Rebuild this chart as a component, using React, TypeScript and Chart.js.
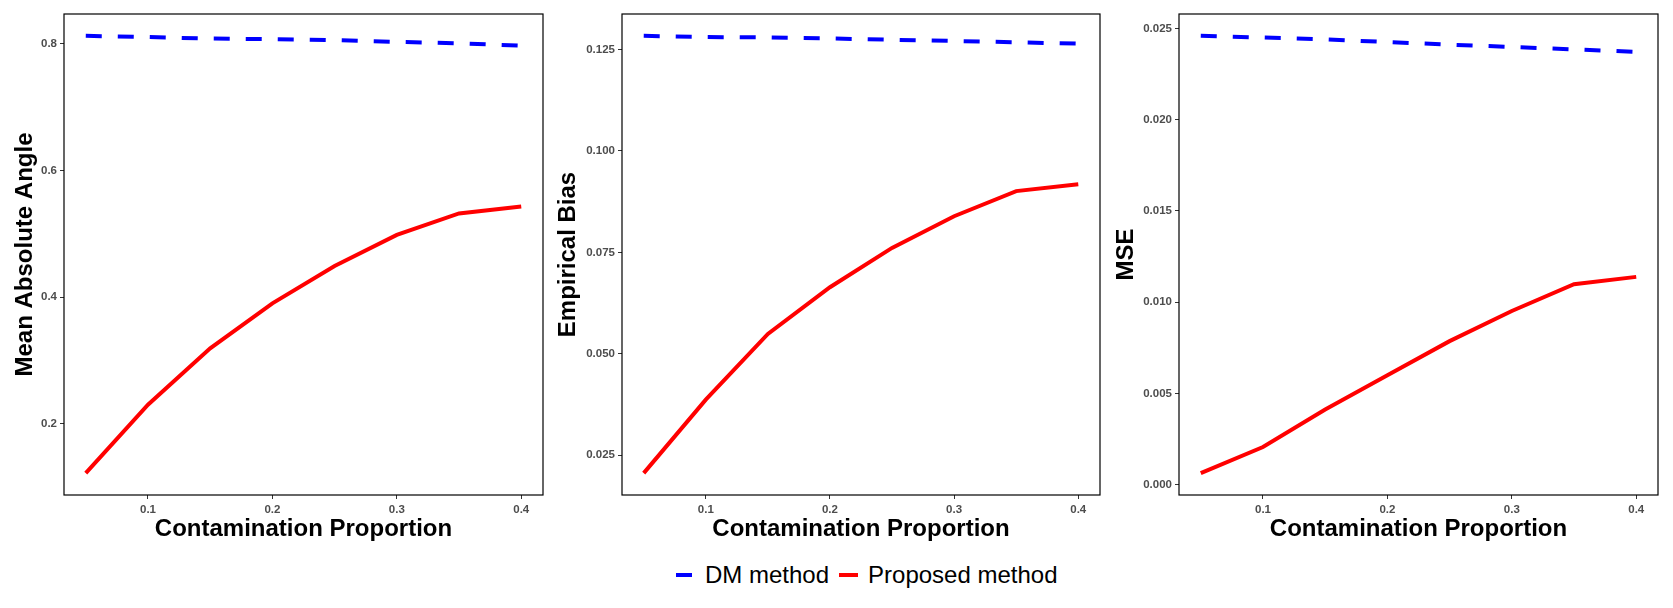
import { useEffect, useRef } from 'react';
import { Chart, registerables } from 'chart.js';

Chart.register(...registerables);

// contamination proportions (x) and the ticks shown on every panel
const proportions = [0.05, 0.1, 0.15, 0.2, 0.25, 0.3, 0.35, 0.4];
const xTicks = [0.1, 0.2, 0.3, 0.4];

// Mean Absolute Angle
const angleDM = [0.8123, 0.8104, 0.808, 0.807, 0.8055, 0.8028, 0.8006, 0.7969];
const angleProposed = [0.122, 0.23, 0.319, 0.39, 0.449, 0.498, 0.532, 0.543];
const angleTicks = [0.2, 0.4, 0.6, 0.8];

// Empirical Bias
const biasDM = [0.12835, 0.12806, 0.12796, 0.12772, 0.12739, 0.1271, 0.12677, 0.12643];
const biasProposed = [0.0206, 0.0387, 0.0549, 0.0664, 0.0761, 0.0839, 0.0901, 0.0918];
const biasTicks = [0.025, 0.05, 0.075, 0.1, 0.125];

// MSE
const mseDM = [0.02459, 0.0245, 0.0244, 0.02425, 0.02411, 0.02398, 0.02385, 0.02371];
const mseProposed = [0.00064, 0.00207, 0.00412, 0.006, 0.00787, 0.00952, 0.01099, 0.01139];
const mseTicks = [0, 0.005, 0.01, 0.015, 0.02, 0.025];

const seriesNames = ['DM method', 'Proposed method'];
const xTitle = 'Contamination Proportion';

const FONT = "'Liberation Sans', Arial, sans-serif";
const BLUE = '#0000FF';
const RED = '#FF0000';
const CANVAS_H = 560;
const FRAME_BOTTOM = 495;

const framePlugin = {
  id: 'frame',
  afterDraw(chart: Chart) {
    const { ctx, chartArea: a } = chart;
    ctx.save();
    ctx.strokeStyle = '#000';
    ctx.lineWidth = 1.2;
    ctx.strokeRect(a.left, a.top, a.right - a.left, a.bottom - a.top);
    ctx.restore();
  },
};

interface PanelProps {
  left: number;
  width: number;
  yAxisWidth: number;
  rightPad: number;
  titlePad: number;
  yTitle: string;
  dm: number[];
  proposed: number[];
  yTicks: number[];
  decimals: number;
}

function Panel({ left, width, yAxisWidth, rightPad, titlePad, yTitle, dm, proposed, yTicks, decimals }: PanelProps) {
  const canvasRef = useRef<HTMLCanvasElement>(null);

  useEffect(() => {
    if (!canvasRef.current) return;

    // ggplot-style 5% expansion of the data range
    const lo = Math.min(...dm, ...proposed);
    const hi = Math.max(...dm, ...proposed);
    const ey = (hi - lo) * 0.05;
    const xlo = proportions[0];
    const xhi = proportions[proportions.length - 1];
    const ex = (xhi - xlo) * 0.05;

    const tickFont = { family: FONT, size: 11.5, weight: 'bold' as const };
    const titleFont = { family: FONT, size: 24, weight: 'bold' as const, lineHeight: 1 };

    const chart = new Chart(canvasRef.current, {
      type: 'line',
      data: {
        datasets: [
          {
            label: seriesNames[0],
            data: proportions.map((x, i) => ({ x, y: dm[i] })),
            borderColor: BLUE,
            borderWidth: 4,
            borderDash: [16, 16],
            pointRadius: 0,
            tension: 0,
            fill: false,
          },
          {
            label: seriesNames[1],
            data: proportions.map((x, i) => ({ x, y: proposed[i] })),
            borderColor: RED,
            borderWidth: 4,
            pointRadius: 0,
            tension: 0,
            fill: false,
          },
        ],
      },
      options: {
        animation: false,
        responsive: false,
        layout: { padding: { top: 14, right: rightPad, left: 0, bottom: 0 } },
        plugins: { legend: { display: false }, tooltip: { enabled: false } },
        scales: {
          x: {
            type: 'linear',
            min: xlo - ex,
            max: xhi + ex,
            afterBuildTicks: (s: any) => {
              s.ticks = xTicks.map((v) => ({ value: v }));
            },
            afterFit: (s: any) => {
              s.height = CANVAS_H - FRAME_BOTTOM;
            },
            border: { display: false },
            grid: { drawOnChartArea: false, drawTicks: true, tickLength: 4, tickColor: '#333' },
            ticks: {
              autoSkip: false,
              maxRotation: 0,
              padding: 4,
              color: '#4D4D4D',
              font: tickFont,
              callback: (v: any) => Number(v).toFixed(1),
            },
            title: {
              display: true,
              text: xTitle,
              color: '#000',
              font: titleFont,
              padding: { top: 0, bottom: 19 },
            },
          },
          y: {
            type: 'linear',
            min: lo - ey,
            max: hi + ey,
            afterBuildTicks: (s: any) => {
              s.ticks = yTicks.map((v) => ({ value: v }));
            },
            afterFit: (s: any) => {
              s.width = yAxisWidth;
            },
            border: { display: false },
            grid: { drawOnChartArea: false, drawTicks: true, tickLength: 4, tickColor: '#333' },
            ticks: {
              autoSkip: false,
              padding: 3,
              color: '#4D4D4D',
              font: tickFont,
              callback: (v: any) => Number(v).toFixed(decimals),
            },
            title: {
              display: true,
              text: yTitle,
              color: '#000',
              font: titleFont,
              padding: { top: titlePad, bottom: 0 },
            },
          },
        },
      },
      plugins: [framePlugin],
    });

    return () => chart.destroy();
  }, []);

  return (
    <canvas
      ref={canvasRef}
      width={width}
      height={CANVAS_H}
      style={{ position: 'absolute', left, top: 0, width, height: CANVAS_H }}
    />
  );
}

function LegendKey({ color, width }: { color: string; width: number }) {
  return <span style={{ display: 'inline-block', width, height: 4, background: color }} />;
}

export default function App() {
  return (
    <div
      style={{
        position: 'absolute',
        left: 0,
        top: 0,
        width: 1673,
        height: 608,
        background: '#fff',
        overflow: 'hidden',
      }}
    >
      <Panel left={0} width={556} yAxisWidth={64} rightPad={13} titlePad={13}
        yTitle="Mean Absolute Angle" dm={angleDM} proposed={angleProposed} yTicks={angleTicks} decimals={1} />
      <Panel left={556} width={558} yAxisWidth={66} rightPad={14} titlePad={0}
        yTitle="Empirical Bias" dm={biasDM} proposed={biasProposed} yTicks={biasTicks} decimals={3} />
      <Panel left={1114} width={559} yAxisWidth={65} rightPad={15} titlePad={0}
        yTitle="MSE" dm={mseDM} proposed={mseProposed} yTicks={mseTicks} decimals={3} />
      <div
        style={{
          position: 'absolute',
          left: 676,
          top: 561,
          height: 28,
          display: 'flex',
          alignItems: 'center',
          fontFamily: FONT,
          fontSize: 24,
          color: '#000',
          whiteSpace: 'nowrap',
        }}
      >
        <LegendKey color={BLUE} width={16} />
        <span style={{ marginLeft: 13 }}>{seriesNames[0]}</span>
        <span style={{ marginLeft: 10, display: 'inline-flex' }}>
          <LegendKey color={RED} width={19} />
        </span>
        <span style={{ marginLeft: 10 }}>{seriesNames[1]}</span>
      </div>
    </div>
  );
}
